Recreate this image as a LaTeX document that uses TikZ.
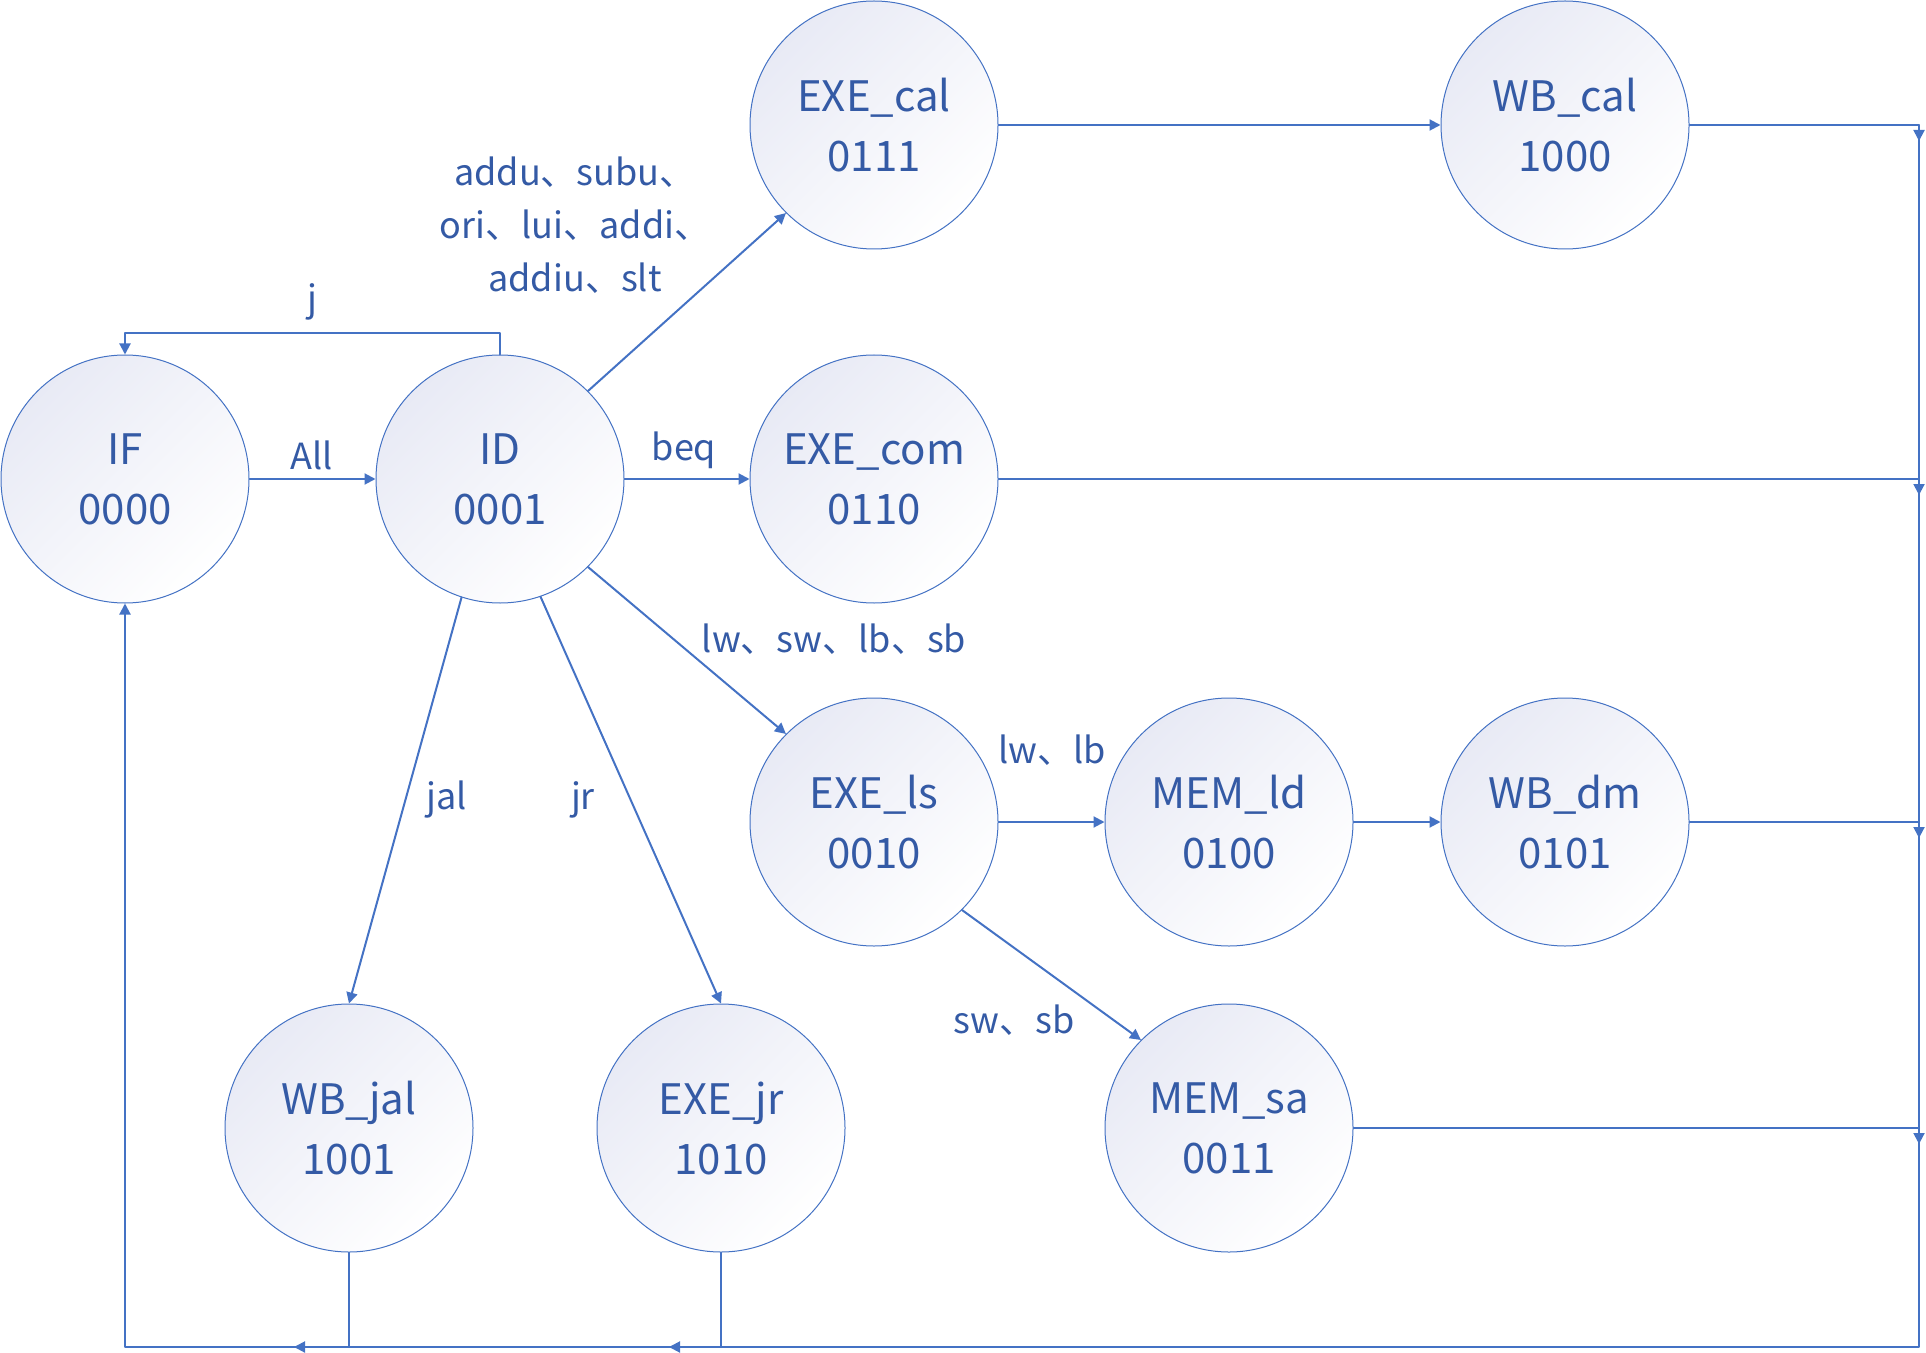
\documentclass[tikz,border=0pt]{standalone}
\usepackage{fontspec}
\setmainfont{Noto Sans CJK SC}
\usepackage{tikz}
\usetikzlibrary{arrows.meta}
\definecolor{lineblue}{RGB}{68,114,196}
\definecolor{txtblue}{RGB}{52,90,165}
\definecolor{shadeblue}{RGB}{232,234,245}
\tikzset{
	st/.style={circle,draw=lineblue,line width=0.5pt,minimum size=124pt,inner sep=0pt,top color=shadeblue,bottom color=white,shading angle=45,text=txtblue,align=center,font=\fontsize{21}{30}\selectfont},
	lbl/.style={text=txtblue,align=center,inner sep=0pt,anchor=base,font=\fontsize{18}{26.5}\selectfont},
	wire/.style={draw=lineblue,line width=1pt}
}

\begin{document}
\begin{tikzpicture}[line cap=round,line join=round,>={Triangle[length=5.5pt,width=5.5pt]},x=0.5pt,y=-0.5pt]
	\useasboundingbox (0,0) rectangle (1926,1353);
	\node[st] (IF) at (125,479) {IF\\0000};
	\node[st] (ID) at (500,479) {ID\\0001};
	\node[st] (EXEcal) at (874,125) {EXE\_cal\\0111};
	\node[st] (WBcal) at (1565,125) {WB\_cal\\1000};
	\node[st] (EXEcom) at (874,479) {EXE\_com\\0110};
	\node[st] (EXEls) at (874,822) {EXE\_ls\\0010};
	\node[st] (MEMld) at (1229,822) {MEM\_ld\\0100};
	\node[st] (WBdm) at (1565,822) {WB\_dm\\0101};
	\node[st] (WBjal) at (349,1128) {WB\_jal\\1001};
	\node[st] (EXEjr) at (721,1128) {EXE\_jr\\1010};
	\node[st] (MEMsa) at (1229,1128) {MEM\_sa\\0011};
	\coordinate (b1) at (1919,125);
	\coordinate (b2) at (1919,479);
	\coordinate (b3) at (1919,822);
	\coordinate (b4) at (1919,1128);
	\coordinate (br) at (1919,1347);
	\coordinate (bl) at (125,1347);
	\coordinate (c1) at (349,1347);
	\coordinate (c2) at (721,1347);
	\draw[wire,->] (IF.east) -- (ID.west);
	\draw[wire,->] (ID.north) -- ++(0,-21) -| (IF.north);
	\draw[wire,->] (ID.45) -- (EXEcal.-135);
	\draw[wire,->] (ID.east) -- (EXEcom.west);
	\draw[wire,->] (ID.-45) -- (EXEls.135);
	\draw[wire,->] (ID.-108) -- (WBjal.north);
	\draw[wire,->] (ID.-71) -- (EXEjr.north);
	\draw[wire,->] (EXEcal.east) -- (WBcal.west);
	\draw[wire,->] (EXEls.east) -- (MEMld.west);
	\draw[wire,->] (EXEls.-45) -- (MEMsa.135);
	\draw[wire,->] (MEMld.east) -- (WBdm.west);
	\draw[wire,->] (WBcal.east) -- (b1) -- (br) -- (bl) -- (IF.south);
	\draw[wire] (EXEcom.east) -- (b2);
	\draw[wire] (WBdm.east) -- (b3);
	\draw[wire] (MEMsa.east) -- (b4);
	\draw[wire] (WBjal.south) -- (c1);
	\draw[wire] (EXEjr.south) -- (c2);
	\foreach \b in {b1,b2,b3,b4}
		\draw[wire,->] (\b) -- ++(0,16);
	\draw[wire,->] (c1) -- ++(-55,0);
	\draw[wire,->] (c2) -- ++(-52,0);
	\node[lbl] (lAll) at (312,469) {All};
	\node[lbl] (lj) at (312,312) {j};
	\node[lbl] (lcal) at (575,292) {addu、subu、\\ori、lui、addi、\\addiu、slt};
	\node[lbl] (lbeq) at (684,460) {beq};
	\node[lbl] (lls) at (834,652) {lw、sw、lb、sb};
	\node[lbl] (ljal) at (447,809) {jal};
	\node[lbl] (ljr) at (583,809) {jr};
	\node[lbl] (lld) at (1052,763) {lw、lb};
	\node[lbl] (lsa) at (1014,1033) {sw、sb};
\end{tikzpicture}
\end{document}
